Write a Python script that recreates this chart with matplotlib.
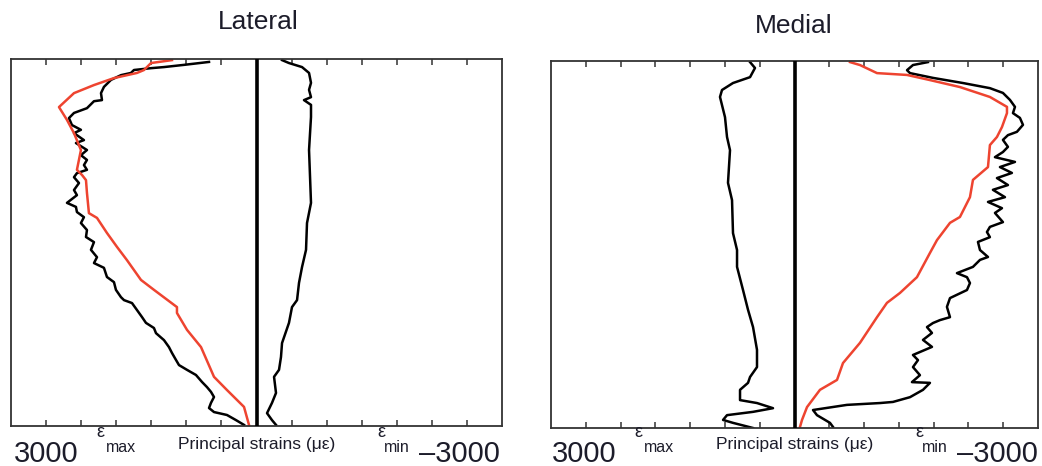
"""Principal strains along the bone, lateral vs medial side."""

import matplotlib

matplotlib.use("Agg")
import matplotlib.pyplot as plt
import numpy as np

plt.rcParams["font.family"] = ["Liberation Sans", "DejaVu Sans"]

# position along the bone, percent of length (0 = top); strains in microstrain
lat_max_y = [0.8, 1.6, 2.2, 2.5, 3.0, 3.8, 4.4, 5.7, 7.6, 9.3, 11.2, 11.5, 13.4, 14.7, 16.1, 18.0,
             19.3, 20.2, 22.1, 22.9, 24.8, 26.2, 27.5, 28.9, 30.2, 31.1, 32.2, 33.8, 35.7, 37.1,
             39.2, 40.3, 41.7, 43.1, 44.7, 46.6, 48.5, 49.9, 52.0, 54.0, 55.6, 56.9, 59.4, 60.8,
             62.9, 64.9, 65.7, 66.5, 68.4, 70.3, 71.9, 73.3, 74.7, 76.6, 78.5, 80.1, 82.0, 83.4,
             84.7, 86.1, 88.0, 89.4, 90.7, 92.1, 93.7, 95.1, 96.2, 97.0, 98.4, 99.7]
lat_max_strain = [677, 1034, 1319, 1504, 1747, 1790, 1932, 2075, 2175, 2217, 2203, 2317, 2417,
                  2602, 2674, 2631, 2503, 2602, 2460, 2574, 2417, 2503, 2417, 2460, 2417, 2560,
                  2602, 2531, 2602, 2560, 2702, 2574, 2560, 2460, 2503, 2417, 2431, 2317, 2360,
                  2274, 2317, 2175, 2132, 2032, 2004, 1932, 1889, 1775, 1704, 1633, 1576, 1462,
                  1433, 1319, 1248, 1205, 1148, 1105, 991, 863, 777, 706, 649, 606, 649, 677, 606,
                  421, 292, 178]

lat_model_y = [0.3, 1.1, 3.0, 3.8, 5.2, 7.1, 9.3, 13.1, 16.6, 20.2, 24.8, 30.2, 31.6, 33.0, 36.5,
               42.0, 43.3, 47.4, 51.2, 54.8, 60.2, 62.9, 67.6, 69.2, 73.8, 78.5, 86.6, 90.2, 94.8,
               99.7]
lat_model_strain = [1205, 1504, 1604, 1704, 2032, 2317, 2602, 2816, 2702, 2602, 2503, 2560, 2488,
                    2431, 2417, 2389, 2274, 2132, 1989, 1847, 1647, 1462, 1134, 1134, 991, 791,
                    606, 421, 178, 107]

lat_min_y = [0.3, 1.1, 2.2, 3.8, 6.5, 8.4, 10.4, 11.2, 12.5, 15.8, 24.8, 39.2, 44.7, 52.0, 56.7,
             61.0, 65.7, 67.6, 71.9, 77.4, 81.2, 84.7, 86.6, 91.0, 93.7, 96.5, 98.4, 99.7]
lat_min_strain = [-364, -463, -649, -749, -777, -749, -777, -677, -777, -777, -749, -777, -720,
                  -706, -649, -606, -578, -506, -463, -364, -349, -321, -250, -278, -221, -150,
                  -221, -278]

med_max_y = [0.3, 1.9, 4.4, 6.0, 7.9, 9.8, 15.3, 20.7, 24.3, 33.2, 37.9, 46.9, 51.5, 56.1, 62.4,
             67.8, 72.5, 78.7, 83.4, 86.1, 87.7, 89.6, 92.4, 93.2, 94.6, 95.6, 96.5, 97.8, 98.6, 100]
med_max_strain = [639, 568, 639, 884, 1042, 1071, 999, 970, 927, 956, 898, 884, 826, 826, 740,
                  668, 596, 539, 539, 639, 668, 783, 783, 539, 309, 596, 970, 1027, 884, 596]

med_min_y = [0.3, 1.1, 2.5, 3.3, 4.6, 6.0, 7.4, 8.7, 10.6, 12.5, 14.2, 15.5, 17.4, 19.3, 20.2,
             21.5, 23.4, 24.8, 26.2, 27.5, 28.9, 30.5, 31.9, 33.8, 35.1, 37.1, 38.4, 40.1, 41.4,
             43.9, 45.2, 46.6, 48.0, 49.3, 51.5, 53.4, 54.2, 56.1, 57.8, 58.9, 60.5, 62.4, 64.6,
             67.0, 69.8, 70.6, 71.4, 72.5, 74.1, 76.0, 77.9, 80.1, 81.5, 83.4, 85.6, 87.5, 87.7,
             89.6, 91.6, 92.9, 93.2, 93.7, 95.1, 96.5, 98.6, 99.7]
med_min_strain = [-1918, -1703, -1617, -1660, -1990, -2421, -2809, -2996, -3097, -3169, -3140,
                  -3240, -3284, -3197, -3068, -2996, -3068, -2996, -2881, -3169, -2953, -3125,
                  -2910, -3068, -2852, -3025, -2781, -2982, -2881, -2996, -2809, -2766, -2809,
                  -2637, -2666, -2781, -2666, -2565, -2335, -2479, -2522, -2479, -2235, -2191,
                  -2235, -2091, -1990, -1904, -1976, -1847, -1976, -1703, -1775, -1703, -1803,
                  -1688, -1947, -1847, -1660, -1415, -1229, -754, -266, -323, -510, -553]

med_model_y = [0.3, 1.1, 3.3, 3.8, 5.2, 7.1, 9.8, 12.5, 14.2, 18.0, 20.7, 22.9, 28.9, 32.4, 37.1,
               42.5, 44.1, 48.8, 52.3, 58.9, 63.2, 65.9, 69.8, 76.8, 82.3, 86.9, 89.6, 94.3, 97.8, 99.7]
med_model_strain = [-798, -941, -1186, -1617, -1947, -2378, -2809, -3054, -3054, -2982, -2910,
                    -2809, -2781, -2565, -2522, -2378, -2235, -2048, -1947, -1760, -1516, -1329,
                    -1186, -941, -697, -611, -366, -180, -108, -79]

titles = ["Lateral", "Medial"]
tick_values = [3000, 2500, 2000, 1500, 1000, 500, -500, -1000, -1500, -2000, -2500, -3000]

RED = "#EE4430"
TXT = "#1c1c2a"
W, H = 1042, 466


def setup(ax):
    ax.set_xlim(3500, -3500)
    ax.set_ylim(100, 0)
    ax.axvline(0, color="black", lw=2.6, zorder=3)
    ax.set_xticks(tick_values)
    ax.set_yticks([])
    ax.tick_params(axis="x", direction="in", top=True, bottom=True, length=4, width=1.1,
                   color="#333333", labelbottom=False)
    for sp in ax.spines.values():
        sp.set_color("#333333")
        sp.set_linewidth(1.3)


def labels(x0):
    # x0 is the pixel offset of the panel's text row
    fig.text((x0 + 46) / W, 1 - 462 / H, "3000", ha="center", va="baseline", size=21, color=TXT)
    fig.text((x0 + 96) / W, 1 - 437 / H, "ε", ha="left", va="baseline", size=13, color=TXT)
    fig.text((x0 + 106) / W, 1 - 452 / H, "max", ha="left", va="baseline", size=11.5, color=TXT)
    fig.text((x0 + 257) / W, 1 - 449 / H, "Principal strains (με)", ha="center", va="baseline",
             size=12.5, color=TXT)
    fig.text((x0 + 377) / W, 1 - 437 / H, "ε", ha="left", va="baseline", size=13, color=TXT)
    fig.text((x0 + 384) / W, 1 - 452 / H, "min", ha="left", va="baseline", size=11.5, color=TXT)
    fig.text((x0 + 500) / W, 1 - 462 / H, "\u20133000", ha="right", va="baseline", size=21, color=TXT)


fig = plt.figure(figsize=(W / 100, H / 100), dpi=100)
ax1 = fig.add_axes([11 / W, 1 - 426 / H, 491 / W, 367 / H])
ax2 = fig.add_axes([551 / W, 1 - 428 / H, 487 / W, 367 / H])

setup(ax1)
ax1.plot(lat_max_strain, lat_max_y, color="black", lw=1.8)
ax1.plot(lat_min_strain, lat_min_y, color="black", lw=1.8)
ax1.plot(lat_model_strain, lat_model_y, color=RED, lw=1.8)

setup(ax2)
ax2.plot(med_max_strain, med_max_y, color="black", lw=1.8)
ax2.plot(med_min_strain, med_min_y, color="black", lw=1.8)
ax2.plot(med_model_strain, med_model_y, color=RED, lw=1.8)

fig.text(258 / W, 1 - 22 / H, titles[0], ha="center", va="center", size=19, color=TXT)
fig.text(794 / W, 1 - 26 / H, titles[1], ha="center", va="center", size=19, color=TXT)
labels(0)
labels(538)

fig.savefig("out.png", dpi=100)
